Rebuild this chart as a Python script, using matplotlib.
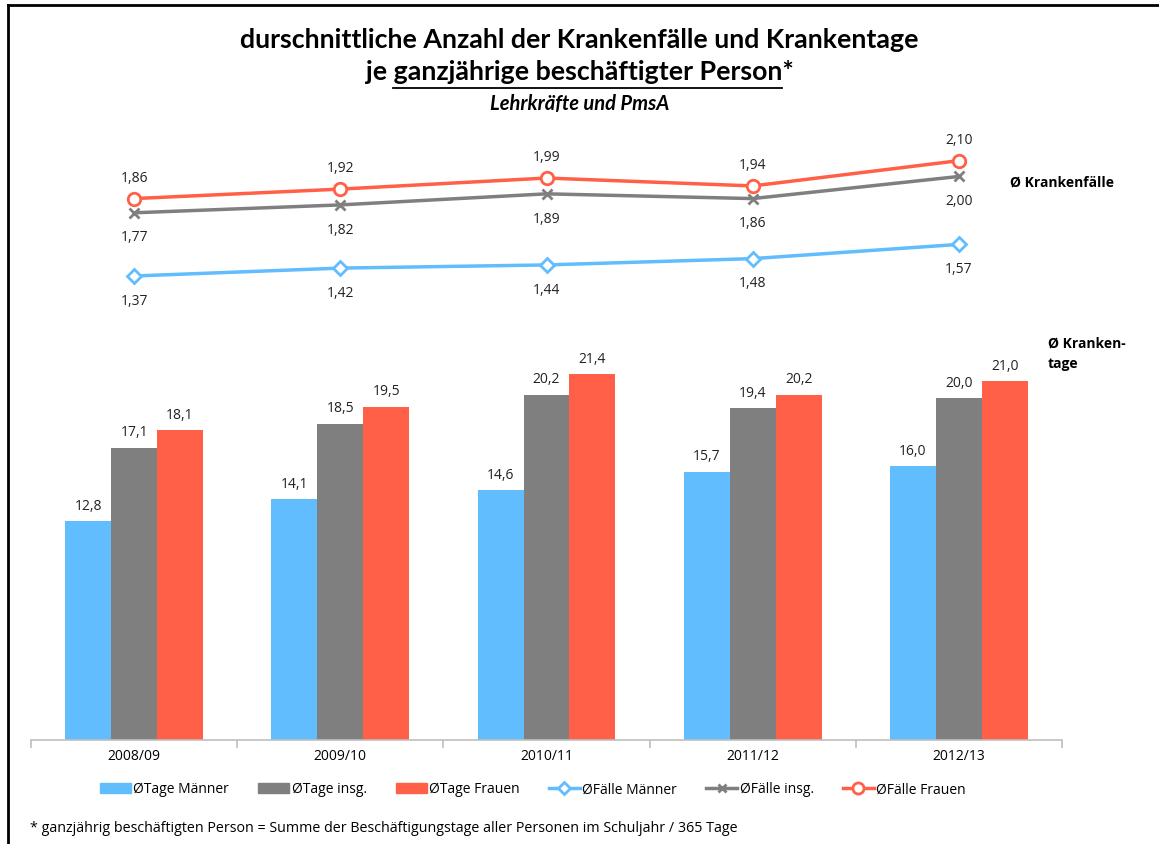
import matplotlib
matplotlib.use("Agg")
import matplotlib.pyplot as plt
from matplotlib.lines import Line2D
from matplotlib.patches import Patch
import numpy as np

plt.rcParams['font.family'] = ['Open Sans', 'DejaVu Sans']

categories = ["2008/09", "2009/10", "2010/11", "2011/12", "2012/13"]
tage_maenner = [12.8, 14.1, 14.6, 15.7, 16.0]
tage_insg = [17.1, 18.5, 20.2, 19.4, 20.0]
tage_frauen = [18.1, 19.5, 21.4, 20.2, 21.0]
faelle_maenner = [1.37, 1.42, 1.44, 1.48, 1.57]
faelle_insg = [1.77, 1.82, 1.89, 1.86, 2.00]
faelle_frauen = [1.86, 1.92, 1.99, 1.94, 2.10]

c_blue = "#61BDFD"
c_gray = "#7F7F7F"
c_red = "#FF6047"

def de(v, d):
    return f"{v:.{d}f}".replace(".", ",")

fig = plt.figure(figsize=(11.59, 8.45), dpi=100)
ax = fig.add_axes([31/1159, 1-741/845, (1062-31)/1159, (741-140)/845])
x = np.arange(len(categories))
w = 0.223
for off, vals, col in [(-w, tage_maenner, c_blue), (0, tage_insg, c_gray), (w, tage_frauen, c_red)]:
    ax.bar(x + off, vals, width=w, color=col, zorder=2)
    for xi, v in zip(x + off, vals):
        ax.annotate(de(v, 1), (xi, v), xytext=(0, 6), textcoords="offset points",
                    ha="center", va="bottom", fontsize=10, color="#222222")

ax.set_xlim(-0.5, 4.5)
ax.set_ylim(0, (741-140)/17.1)
ax.set_yticks([])
for s in ["top", "right", "left"]:
    ax.spines[s].set_visible(False)
ax.spines["bottom"].set_color("#BFBFBF")
ax.spines["bottom"].set_linewidth(1.2)
ax.set_xticks(x)
ax.set_xticklabels(categories, fontsize=10)
ax.tick_params(axis="x", length=0, pad=6)
ax.set_xticks(np.arange(-0.5, 5.0, 1.0), minor=True)
ax.tick_params(axis="x", which="minor", length=6, color="#BFBFBF", width=1.2)

ax2 = ax.twinx()
ax2.set_ylim(1.37 - (741-277)/158, 1.37 + (277-140)/158)
ax2.set_yticks([])
for s in ["top", "right", "left", "bottom"]:
    ax2.spines[s].set_visible(False)
ax2.plot(x, faelle_maenner, color=c_blue, lw=2.5, marker="D", ms=7, mfc="white", mec=c_blue, mew=2)
ax2.plot(x, faelle_insg, color=c_gray, lw=2.5, marker="x", ms=7, mec=c_gray, mew=2)
ax2.plot(x, faelle_frauen, color=c_red, lw=2.5, marker="o", ms=9, mfc="white", mec=c_red, mew=2)
for xi, v in zip(x, faelle_maenner):
    ax2.annotate(de(v, 2), (xi, v), xytext=(0, -12), textcoords="offset points",
                 ha="center", va="top", fontsize=10, color="#222222")
for xi, v in zip(x, faelle_insg):
    ax2.annotate(de(v, 2), (xi, v), xytext=(0, -12), textcoords="offset points",
                 ha="center", va="top", fontsize=10, color="#222222")
for xi, v in zip(x, faelle_frauen):
    ax2.annotate(de(v, 2), (xi, v), xytext=(0, 10), textcoords="offset points",
                 ha="center", va="bottom", fontsize=10, color="#222222")

fig.text(1010/1159, 1-183/845, "Ø Krankenfälle", fontsize=10, fontweight="bold", va="center", ha="left")
fig.text(1048/1159, 1-354/845, "Ø Kranken-\ntage", fontsize=10, fontweight="bold", va="center", ha="left", linespacing=1.55)

# Title
tfont = dict(fontsize=19.3, fontweight="bold", family="Lato")
fig.text(0.5, 1-40/845, "durschnittliche Anzahl der Krankenfälle und Krankentage",
         ha="center", va="center", **tfont)
full = "je ganzjährige beschäftigter Person*"
t2 = fig.text(0.5, 1-72/845, full, ha="center", va="center", **tfont)
fig.text(0.5, 1-104/845, "Lehrkräfte und PmsA", ha="center", va="center", fontsize=14.5,
         fontweight="bold", style="italic", family="Lato")

# underline under "ganzjährige beschäftigter Person"
fig.canvas.draw()
r = fig.canvas.get_renderer()
def tw(s):
    t = fig.text(0, 0, s, **tfont)
    wd = t.get_window_extent(renderer=r).width
    t.remove()
    return wd
bb = t2.get_window_extent(renderer=r)
x0 = bb.x0 + tw("je ")
x1 = bb.x0 + tw("je ganzjährige beschäftigter Person")
fig.add_artist(Line2D([x0/1159, x1/1159], [1-89/845, 1-89/845], color="black", lw=1.3))

handles = [Patch(color=c_blue), Patch(color=c_gray), Patch(color=c_red),
           Line2D([], [], color=c_blue, lw=2.5, marker="D", ms=6, mfc="white", mec=c_blue, mew=2),
           Line2D([], [], color=c_gray, lw=2.5, marker="x", ms=6, mec=c_gray, mew=2),
           Line2D([], [], color=c_red, lw=2.5, marker="o", ms=8, mfc="white", mec=c_red, mew=2)]
labels = ["ØTage Männer", "ØTage insg.", "ØTage Frauen", "ØFälle Männer", "ØFälle insg.", "ØFälle Frauen"]
fig.legend(handles, labels, loc="center", bbox_to_anchor=(533/1159, 1-790/845), ncol=6,
           frameon=False, fontsize=10, handlelength=2.2, handletextpad=0.2, columnspacing=2.1)

fig.text(30/1159, 1-829/845,
         "* ganzjährig beschäftigten Person = Summe der Beschäftigungstage aller Personen im Schuljahr / 365 Tage",
         ha="left", va="center", fontsize=10.3)

# frame lines (left and top)
fig.add_artist(Line2D([8/1159, 8/1159], [0, 1-6/845], color="black", lw=2))
fig.add_artist(Line2D([8/1159, 1], [1-6/845, 1-6/845], color="black", lw=2))

fig.savefig("out.png", dpi=100)
